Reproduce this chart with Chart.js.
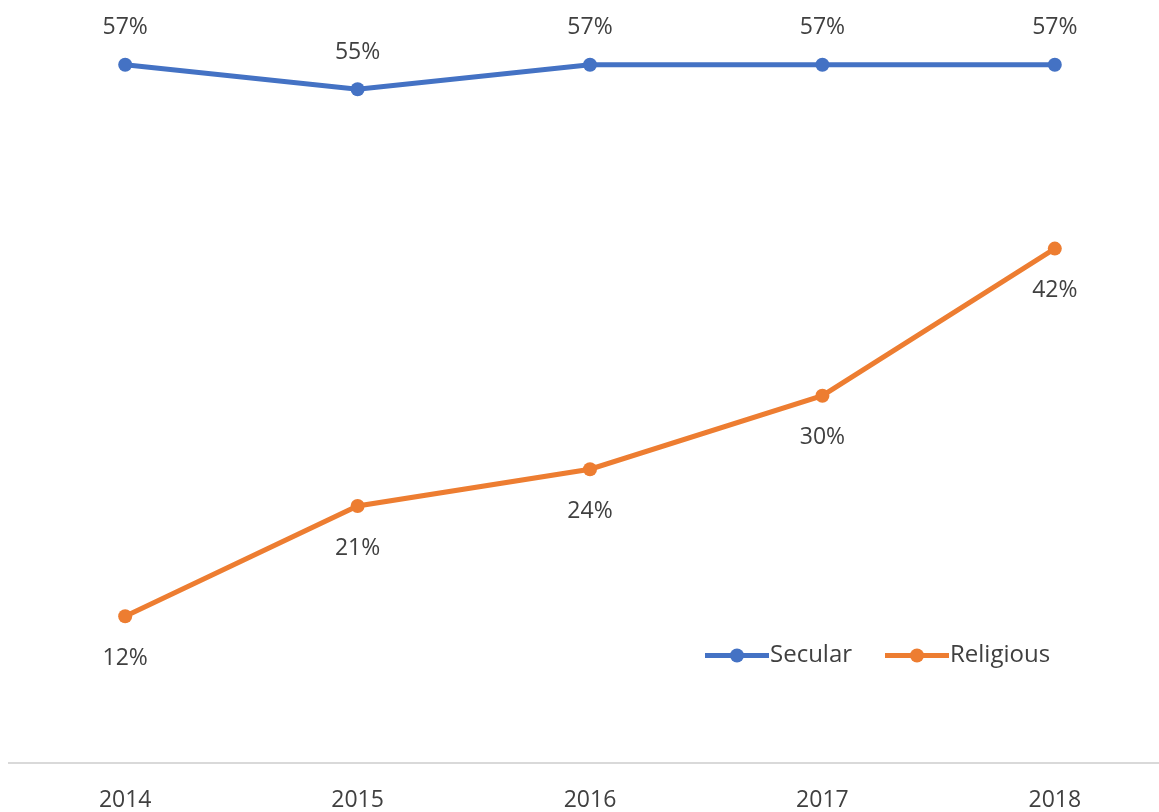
<!DOCTYPE html>
<html>
<head>
<meta charset="utf-8">
<script src="https://cdn.jsdelivr.net/npm/chart.js@4.4.1/dist/chart.umd.min.js"></script>
<style>
  html, body { margin: 0; padding: 0; background: #ffffff; overflow: hidden; }
  #wrap { width: 1180px; height: 837px; position: relative; }
</style>
</head>
<body>
<div id="wrap"><canvas id="chart"></canvas></div>
<script>
// Share of respondents by year
const years = ['2014', '2015', '2016', '2017', '2018'];
const secular = [57, 55, 57, 57, 57];
const religious = [12, 21, 24, 30, 42];
const seriesNames = ['Secular', 'Religious'];
const seriesColors = ['#4472C4', '#ED7D31'];

const FONT = '"Open Sans", Lato, sans-serif';
const TEXT = '#404040';

// Value labels: above the Secular points, below the Religious points
const valueLabels = {
  id: 'valueLabels',
  afterDatasetsDraw(chart) {
    const ctx = chart.ctx;
    ctx.save();
    ctx.font = '23px ' + FONT;
    ctx.fillStyle = TEXT;
    ctx.textAlign = 'center';
    ctx.textBaseline = 'middle';
    chart.data.datasets.forEach((ds, di) => {
      const meta = chart.getDatasetMeta(di);
      const dy = di === 0 ? -37 : 42;
      meta.data.forEach((pt, i) => {
        ctx.fillText(ds.data[i] + '%', pt.x, pt.y + dy);
      });
    });
    ctx.restore();
  }
};

// Legend drawn inside the plot area, lower right
const innerLegend = {
  id: 'innerLegend',
  afterDraw(chart) {
    const ctx = chart.ctx;
    const y = chart.scales.y.getPixelForValue(8.8);
    const items = [{ x: 705 }, { x: 885 }];
    ctx.save();
    ctx.font = '24px ' + FONT;
    ctx.textBaseline = 'middle';
    ctx.textAlign = 'left';
    chart.data.datasets.forEach((ds, i) => {
      const x0 = items[i].x;
      ctx.strokeStyle = ds.borderColor;
      ctx.lineWidth = 5;
      ctx.lineCap = 'butt';
      ctx.beginPath();
      ctx.moveTo(x0, y);
      ctx.lineTo(x0 + 64, y);
      ctx.stroke();
      ctx.fillStyle = ds.borderColor;
      ctx.beginPath();
      ctx.arc(x0 + 32, y, 7, 0, Math.PI * 2);
      ctx.fill();
      ctx.fillStyle = TEXT;
      ctx.fillText(ds.label, x0 + 65, y);
    });
    ctx.restore();
  }
};

new Chart(document.getElementById('chart'), {
  type: 'line',
  data: {
    labels: years,
    datasets: [
      {
        label: seriesNames[0],
        data: secular,
        borderColor: seriesColors[0],
        backgroundColor: seriesColors[0],
        borderWidth: 5,
        pointRadius: 7,
        pointHoverRadius: 7,
        pointBorderWidth: 0,
        tension: 0
      },
      {
        label: seriesNames[1],
        data: religious,
        borderColor: seriesColors[1],
        backgroundColor: seriesColors[1],
        borderWidth: 5,
        pointRadius: 7,
        pointHoverRadius: 7,
        pointBorderWidth: 0,
        tension: 0
      }
    ]
  },
  options: {
    responsive: true,
    maintainAspectRatio: false,
    animation: false,
    events: [],
    layout: { padding: { left: 9, right: 9, top: 28, bottom: 0 } },
    plugins: {
      legend: { display: false },
      tooltip: { enabled: false }
    },
    scales: {
      x: {
        offset: true,
        grid: { display: false, drawTicks: false },
        border: { display: true, color: '#d9d9d9', width: 2 },
        ticks: {
          color: TEXT,
          font: { family: FONT, size: 23 },
          padding: 23
        }
      },
      y: {
        display: false,
        min: 0,
        max: 60
      }
    }
  },
  plugins: [valueLabels, innerLegend]
});
</script>
</body>
</html>
